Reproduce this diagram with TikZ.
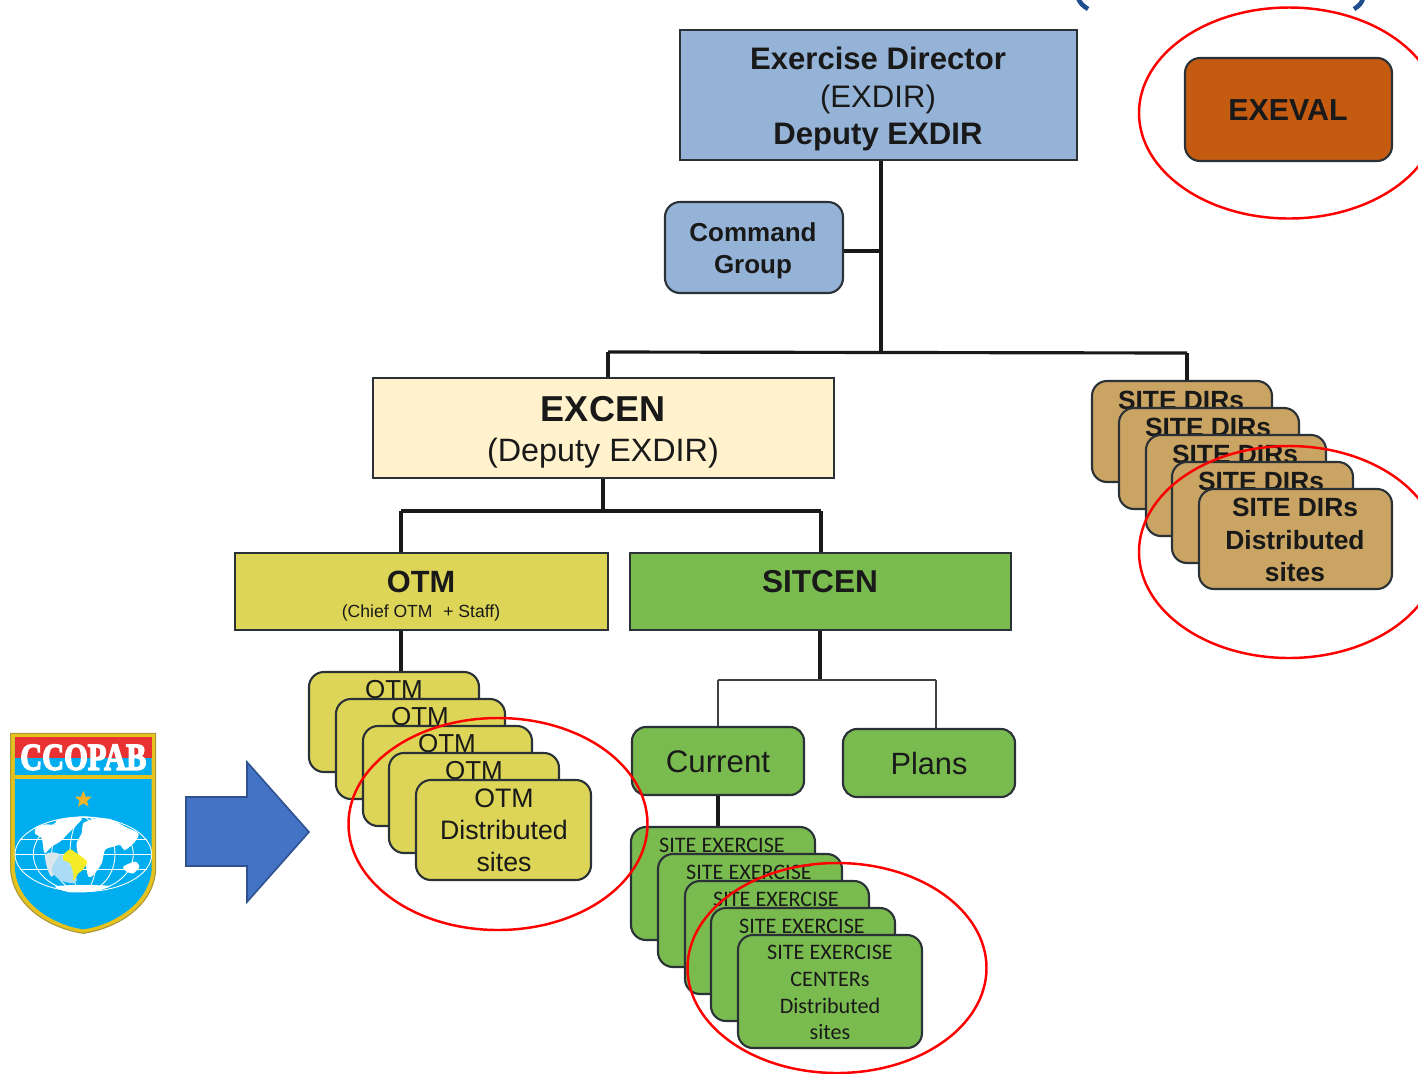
\documentclass[tikz,border=0pt]{standalone}
\usepackage{fontspec}
\usepackage{graphicx}
\setmainfont{Liberation Sans}
\newfontfamily\carl{Carlito}
\newfontfamily\logofont{Liberation Serif}
\definecolor{cblue}{HTML}{95B3D7}
\definecolor{corange}{HTML}{C55A11}
\definecolor{ccream}{HTML}{FFF2CC}
\definecolor{cyel}{HTML}{DDD558}
\definecolor{cgreen}{HTML}{7ABB50}
\definecolor{ctan}{HTML}{C9A463}
\definecolor{cline}{HTML}{2A3238}
\definecolor{arrfill}{HTML}{4472C4}
\definecolor{arrline}{HTML}{2F528F}
\definecolor{brk}{HTML}{1F4E8C}
\definecolor{lgold}{HTML}{E5C21C}
\definecolor{lsky}{HTML}{00AEEF}
\definecolor{lred}{HTML}{E83232}
\definecolor{ledge}{HTML}{AA963C}
\definecolor{lpale}{HTML}{AADCF5}
\definecolor{lgray}{HTML}{D9E6EC}
\definecolor{lyel}{HTML}{F5EB28}
\definecolor{lstar}{HTML}{F0B428}
\newcommand{\fs}[1]{\fontsize{#1}{#1}\selectfont}
\tikzset{
  x=0.02cm,y=-0.02cm,
  sq/.style={draw=cline,line width=1.2pt,inner sep=0pt,align=center},
  rd/.style={sq,rounded corners=0.3cm},
  rds/.style={sq,rounded corners=0.28cm},
  conn/.style={line width=1.8pt,black!90},
  thinconn/.style={line width=1.1pt,black!75},
  txt/.style={inner sep=0pt,align=center,text=black!90},
  ring/.style={draw=red,line width=1.4pt},
}
% name, x0, y0, x1, y1, colour, style
\newcommand{\boxat}[7]{\node[#7,fill=#6,minimum width={(#4-#2)*0.02cm},minimum height={(#5-#3)*0.02cm}] (#1) at ({(#2+#4)/2},{(#3+#5)/2}) {};}
\begin{document}
\begin{tikzpicture}
\useasboundingbox (0,0) rectangle (1418,1073);
\clip (0,0) rectangle (1418,1073);
\fill[white] (0,0) rectangle (1418,1073);

% junctions
\coordinate (spine) at (881,352);
\coordinate (jl) at (608,352);
\coordinate (jr) at (1187,353);
\coordinate (ej) at (603,510);
\coordinate (ejl) at (401,511);
\coordinate (ejr) at (821,511);
\coordinate (sj) at (820,680);
\coordinate (sjl) at (718,680);
\coordinate (sjr) at (936,680);
\coordinate (otmdrop) at (401,672);
\coordinate (curdrop) at (718,828);
\coordinate (dirdrop) at (881,160);
\coordinate (cmdj) at (881,251);

% connectors
\draw[conn] (dirdrop) -- (spine);
\draw[conn] (cmdj) -- (843,251);
\draw[conn] (jl) -- (jr);
\draw[conn] (jl) -- (608,378);
\draw[conn] (jr) -- (1187,381);
\draw[conn] (603,478) -- (ej);
\draw[conn] (ejl) -- (ejr);
\draw[conn] (ejl) -- (401,553);
\draw[conn] (ejr) -- (821,553);
\draw[conn] (401,630) -- (otmdrop);
\draw[conn] (820,630) -- (sj);
\draw[thinconn] (sjl) -- (sjr);
\draw[thinconn] (sjl) -- (718,727);
\draw[thinconn] (sjr) -- (936,729);
\draw[conn] (718,795) -- (curdrop);

% main boxes
\boxat{dir}{680}{30}{1077}{160}{cblue}{sq}
\node[txt,font=\fs{17.7}] (dirt) at (878,99) {\textbf{Exercise Director}\\[3.6pt](EXDIR)\\[3.6pt]\textbf{Deputy EXDIR}};
\boxat{exeval}{1185}{58}{1392}{161}{corange}{rd}
\node[txt,font=\fs{17.3}\bfseries] (exevalt) at (1288,110) {EXEVAL};
\boxat{cmd}{665}{202}{843}{293}{cblue}{rd}
\node[txt,font=\fs{14.8}\bfseries] (cmdt) at (753,251) {Command\\[3.2pt]Group};
\boxat{excen}{373}{378}{834}{478}{ccream}{sq}
\node[txt,font=\fs{20.5}\bfseries] (excent) at (603,409) {EXCEN};
\node[txt,font=\fs{18.4}] (excens) at (603,453) {(Deputy EXDIR)};
\boxat{otm}{235}{553}{608}{630}{cyel}{sq}
\node[txt,font=\fs{17.5}\bfseries] (otmt) at (421,582) {OTM};
\node[txt,font=\fs{10}] (otms) at (421,613) {(Chief OTM\,\, + Staff)};
\boxat{sit}{630}{553}{1011}{630}{cgreen}{sq}
\node[txt,font=\fs{18}\bfseries] (sitt) at (820,582) {SITCEN};
\boxat{cur}{632}{727}{804}{795}{cgreen}{rds}
\node[txt,font=\fs{17.8}] (curt) at (718,762) {Current};
\boxat{pla}{843}{729}{1015}{797}{cgreen}{rds}
\node[txt,font=\fs{17.5}] (plat) at (929,763) {Plans};

% OTM stack
\boxat{o1}{309}{672}{479}{772}{cyel}{rd}
\node[txt,font=\fs{14.8}] (o1t) at (394,690) {OTM};
\boxat{o2}{336}{699}{505}{799}{cyel}{rd}
\node[txt,font=\fs{14.8}] (o2t) at (420,717) {OTM};
\boxat{o3}{363}{726}{532}{826}{cyel}{rd}
\node[txt,font=\fs{14.8}] (o3t) at (447,744) {OTM};
\boxat{o4}{389}{753}{559}{853}{cyel}{rd}
\node[txt,font=\fs{14.8}] (o4t) at (474,771) {OTM};
\boxat{o5}{416}{780}{591}{880}{cyel}{rd}
\node[txt,font=\fs{15.2}] (o5t) at (504,830) {OTM\\[3pt]Distributed\\[3pt]sites};

% Site DIRs stack
\boxat{d1}{1092}{381}{1272}{482}{ctan}{rd}
\node[txt,font=\fs{15}\bfseries] (d1t) at (1181,400) {SITE DIRs};
\boxat{d2}{1119}{408}{1299}{509}{ctan}{rd}
\node[txt,font=\fs{15}\bfseries] (d2t) at (1208,427) {SITE DIRs};
\boxat{d3}{1146}{435}{1326}{536}{ctan}{rd}
\node[txt,font=\fs{15}\bfseries] (d3t) at (1235,454) {SITE DIRs};
\boxat{d4}{1172}{462}{1353}{563}{ctan}{rd}
\node[txt,font=\fs{15}\bfseries] (d4t) at (1261,481) {SITE DIRs};
\boxat{d5}{1199}{489}{1392}{589}{ctan}{rd}
\node[txt,font=\fs{15}\bfseries] (d5t) at (1295,540) {SITE DIRs\\[3.5pt]Distributed\\[3.5pt]sites};

% Site exercise stack
\boxat{s1}{631}{827}{815}{940}{cgreen}{rd}
\node[txt,font=\carl\fs{12.6}] (s1t) at (722,845) {SITE EXERCISE};
\boxat{s2}{658}{854}{842}{967}{cgreen}{rd}
\node[txt,font=\carl\fs{12.6}] (s2t) at (749,872) {SITE EXERCISE};
\boxat{s3}{685}{881}{869}{994}{cgreen}{rd}
\node[txt,font=\carl\fs{12.6}] (s3t) at (776,899) {SITE EXERCISE};
\boxat{s4}{711}{908}{895}{1021}{cgreen}{rd}
\node[txt,font=\carl\fs{12.6}] (s4t) at (802,926) {SITE EXERCISE};
\boxat{s5}{738}{935}{922}{1048}{cgreen}{rd}
\node[txt,font=\carl\fs{12.6}] (s5t) at (830,992.5) {SITE EXERCISE\\[2.7pt]CENTERs\\[2.7pt]Distributed\\[2.7pt]sites};

% red ellipses
\draw[ring] (1289,113) ellipse [x radius=150,y radius=105.5];
\draw[ring] (1289,552) ellipse [x radius=150,y radius=106];
\draw[ring] (498,824) ellipse [x radius=149.5,y radius=106];
\draw[ring] (837,968) ellipse [x radius=149.5,y radius=105];

% block arrow
\draw[fill=arrfill,draw=arrline,line width=0.9pt]
  (186,797) -- (247,797) -- (247,762) -- (309,832) -- (247,902) -- (247,866) -- (186,866) -- cycle;

% bracket fragments at the top
\draw[line width=2.6pt,color=brk] (1078,-2) .. controls (1080,3) and (1083,6) .. (1088,9);
\draw[line width=2.6pt,color=brk] (1363,-2) .. controls (1362,3) and (1359,6) .. (1354,9);

% emblem, in the coordinates of a 3x enlargement
\begin{scope}[shift={(0,720)},x=0.02cm/3,y=-0.02cm/3]
  \draw[fill=lgold,draw=ledge,line width=0.6pt]
    (32,40) -- (467,40) -- (467,450) .. controls (460,560) and (350,625) .. (250,640) .. controls (150,625) and (40,560) .. (32,450) -- cycle;
  \fill[lsky] (45,52) -- (455,52) -- (455,448) .. controls (448,550) and (340,615) .. (250,628) .. controls (160,615) and (52,550) .. (45,448) -- cycle;
  \fill[lgold] (45,165) rectangle (455,178);
  \fill[lred] (45,52) rectangle (455,113);
  % grid
  \begin{scope}[white,line width=0.5pt]
    \draw (250,403) ellipse [x radius=205,y radius=112];
    \draw (250,403) ellipse [x radius=150,y radius=112];
    \draw (250,403) ellipse [x radius=95,y radius=112];
    \draw (250,403) ellipse [x radius=40,y radius=112];
    \draw (60,358) -- (440,358);
    \draw (46,403) -- (454,403);
    \draw (60,448) -- (440,448);
  \end{scope}
  % continents
  \begin{scope}[shift={(30,255)},x=0.02cm/3,y=-0.02cm/3]
    \fill[white] plot[smooth cycle,tension=0.45] coordinates {(80,65) (110,58) (135,60) (140,45) (180,38) (215,40) (205,55) (185,75) (170,90) (150,110) (125,125) (105,145) (100,130) (95,100) (75,85)};
    \fill[white] plot[smooth cycle,tension=0.45] coordinates {(220,55) (250,42) (300,42) (345,65) (385,85) (375,110) (345,135) (330,120) (310,125) (285,135) (275,175) (250,210) (235,215) (225,175) (205,150) (200,115) (215,85)};
    \fill[lgray] plot[smooth cycle,tension=0.45] coordinates {(105,150) (130,142) (150,150) (150,185) (125,215) (112,190)};
    \fill[lpale] plot[smooth cycle,tension=0.45] coordinates {(125,195) (150,150) (170,160) (200,220) (190,235) (150,225)};
    \fill[white] plot[smooth cycle,tension=0.45] coordinates {(340,185) (375,170) (388,185) (370,205) (350,200)};
    \fill[white] plot[smooth cycle,tension=0.45] coordinates {(135,245) (200,240) (300,243) (250,258) (180,262)};
    \fill[lyel] plot[smooth cycle,tension=0.3] coordinates {(160,150) (180,133) (205,148) (232,170) (218,195) (205,205) (190,228) (190,205) (180,175) (160,165)};
  \end{scope}
  % star
  \fill[lstar] (250,212) -- (257,230) -- (275,230) -- (261,243) -- (266,260) -- (250,250) -- (234,260) -- (239,243) -- (225,230) -- (243,230) -- cycle;
  \node[inner sep=0pt,text=white,font=\logofont\fs{17.3}\bfseries] (logot) at (250,112) {\scalebox{1}[1.25]{\special{pdf:code 2 Tr 0.7 w 1 1 1 RG}CCOPAB\special{pdf:code 0 Tr}}};
\end{scope}
\end{tikzpicture}
\end{document}
